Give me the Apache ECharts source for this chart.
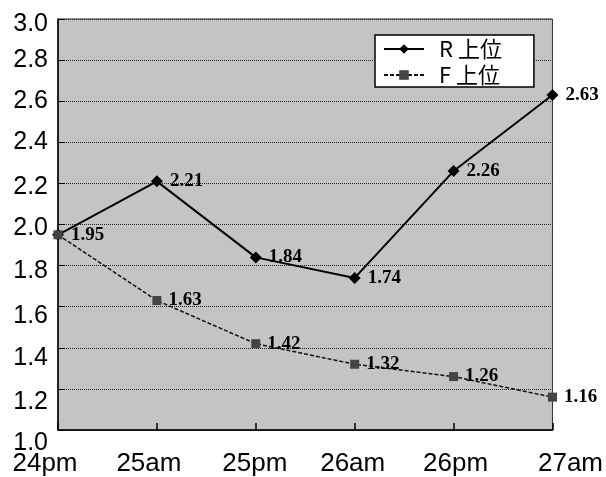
<!DOCTYPE html>
<html>
<head>
<meta charset="utf-8">
<script src="https://cdn.jsdelivr.net/npm/echarts@6/dist/echarts.min.js"></script>
<style>
html,body{margin:0;padding:0;background:#fff;}
#chart{width:606px;height:477px;}
</style>
</head>
<body>
<div id="chart"></div>
<script>
const categories = ['24pm', '25am', '25pm', '26am', '26pm', '27am'];
const rValues = [1.95, 2.21, 1.84, 1.74, 2.26, 2.63];
const fValues = [1.95, 1.63, 1.42, 1.32, 1.26, 1.16];
const seriesNames = ['R 上位', 'F 上位'];
const yMin = 1.0, yMax = 3.0, yStep = 0.2;

// per-label vertical offsets (scan drift) for y labels
const yShift = {30:5, 28:0, 26:0, 24:0, 22:4, 20:4, 18:6, 16:9, 14:10, 12:13, 10:13};
const yRich = {};
Object.keys(yShift).forEach(k => {
  yRich['y' + k] = {fontSize: 25, fontFamily: 'Liberation Sans', color: '#000', padding: [yShift[k] * 2, 0, 0, 0]};
});
const xShift = [-13, -8, -1, -2, 2, 18];
const xRich = {};
xShift.forEach((s, i) => {
  xRich['x' + i] = {fontSize: 26, fontFamily: 'Liberation Sans', color: '#000',
    padding: s < 0 ? [0, -2 * s, 0, 0] : [0, 0, 0, 2 * s]};
});

const labelStyle = {
  show: true, position: 'right', distance: 7,
  fontFamily: 'Liberation Serif', fontWeight: 'bold', fontSize: 19, color: '#000'
};

const chart = echarts.init(document.getElementById('chart'), null, {renderer: 'canvas'});
chart.setOption({
  animation: false,
  backgroundColor: '#fff',
  grid: {left: 58, right: 49, top: 19, bottom: 46, show: true,
    backgroundColor: '#c4c4c4', borderColor: '#333', borderWidth: 1},
  legend: {
    orient: 'vertical', left: 375, top: 35,
    backgroundColor: '#fff', borderColor: '#000', borderWidth: 1.5,
    padding: [2, 32, 0, 8], itemGap: 2, itemWidth: 40, itemHeight: 12,
    textStyle: {fontSize: 22, fontFamily: 'Noto Sans CJK JP', color: '#000', padding: [0, 0, 0, 10], lineHeight: 24},
    data: seriesNames
  },
  xAxis: {
    type: 'category', data: categories, boundaryGap: false,
    axisLine: {lineStyle: {color: '#000', width: 1.5}},
    axisTick: {inside: true, length: 7, lineStyle: {color: '#000', width: 1.5}},
    axisLabel: {margin: 21, formatter: (v, i) => '{x' + i + '|' + v + '}', rich: xRich},
    splitLine: {show: false}
  },
  yAxis: {
    type: 'value', min: yMin, max: yMax, interval: yStep,
    axisLine: {show: true, lineStyle: {color: '#000', width: 1.5}},
    axisTick: {show: true, inside: true, length: 7, lineStyle: {color: '#000', width: 1}},
    axisLabel: {margin: 10,
      formatter: v => '{y' + Math.round(v * 10) + '|' + v.toFixed(1) + '}', rich: yRich},
    splitLine: {show: true, lineStyle: {color: '#222', width: 1, type: 'dotted'}}
  },
  series: [
    {
      name: seriesNames[1], type: 'line', data: fValues,
      symbol: 'rect', symbolSize: 9,
      itemStyle: {color: '#444'},
      lineStyle: {color: '#111', width: 1.5, type: [4, 2]},
      label: Object.assign({}, labelStyle, {formatter: p => p.dataIndex === 0 ? '' : p.value.toFixed(2)}),
      z: 3
    },
    {
      name: seriesNames[0], type: 'line', data: rValues,
      symbol: 'diamond', symbolSize: 12,
      itemStyle: {color: '#000'},
      lineStyle: {color: '#000', width: 2},
      label: Object.assign({}, labelStyle, {formatter: p => p.value.toFixed(2)}),
      z: 2
    }
  ]
});
</script>
</body>
</html>
